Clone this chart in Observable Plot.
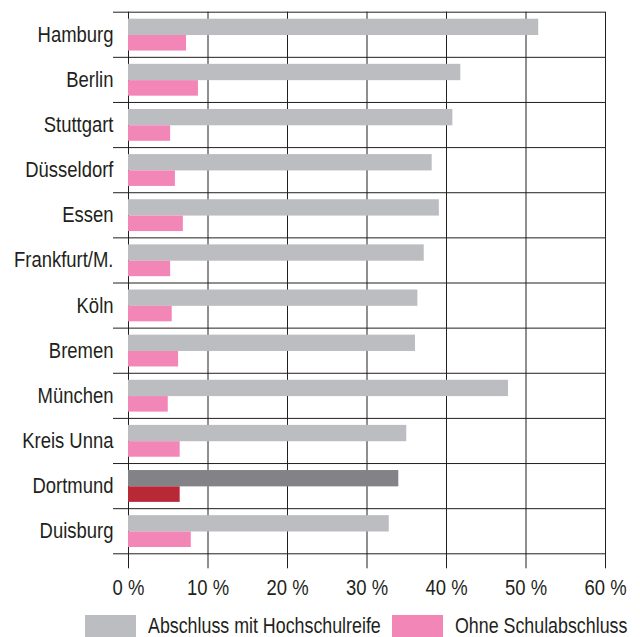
<!DOCTYPE html>
<html><head><meta charset="utf-8">
<script src="https://cdn.jsdelivr.net/npm/d3@7"></script>
<script src="https://cdn.jsdelivr.net/npm/@observablehq/plot@0.6"></script>
<style>
body{margin:0;background:#fff;font-family:"Liberation Sans","Arial",sans-serif;color:#231f20}
#legend{position:relative;height:30px;font-size:22px;line-height:22px}
.sw{position:absolute;top:8px;width:51px;height:22px}
.lab{position:absolute;top:8px;white-space:nowrap;transform:scaleX(0.81);transform-origin:0 50%}
</style></head><body>
<div id="chart"></div>
<div id="legend"></div>
<script>
const cities = ["Hamburg","Berlin","Stuttgart","Düsseldorf","Essen","Frankfurt/M.","Köln","Bremen","München","Kreis Unna","Dortmund","Duisburg"];
const hochschulreife = [51.6,41.8,40.8,38.2,39.1,37.2,36.4,36.1,47.8,35.0,34.0,32.8];
const ohneAbschluss = [7.3,8.8,5.3,5.9,6.9,5.3,5.5,6.3,5.0,6.5,6.5,7.9];
const xTicks = [0,10,20,30,40,50,60];
const seriesNames = ["Abschluss mit Hochschulreife","Ohne Schulabschluss"];
const highlight = "Dortmund";

const colGray = "#bcbdc1", colPink = "#f287b7", colDark = "#838387", colRed = "#b92837";
const ink = "#231f20";
const squeeze = 0.84;

const data = cities.map((c, i) => ({city: c, i, hoch: hochschulreife[i], ohne: ohneAbschluss[i]}));
const centers = cities.map((c, i) => i + 0.5);

const H = 607;
const chart = Plot.plot({
  width: 640,
  height: H,
  marginTop: 11.7,
  marginBottom: H - 553.3,
  marginLeft: 128,
  marginRight: 35,
  style: {fontSize: "22px", fontFamily: "'Liberation Sans',Arial,sans-serif", color: ink, background: "#fff"},
  x: {domain: [0, 60]},
  y: {domain: [0, cities.length], reverse: true},
  color: {type: "identity"},
  marks: [
    Plot.ruleX(xTicks, {stroke: ink, strokeWidth: 1, insetBottom: -15}),
    Plot.ruleY(d3.range(cities.length + 1), {stroke: ink, strokeWidth: 1, insetLeft: -15}),
    Plot.rect(data, {x1: 0, x2: "hoch", y1: "i", y2: d => d.i + 1, insetTop: 7, insetBottom: 21.8,
      fill: d => d.city === highlight ? colDark : colGray}),
    Plot.rect(data, {x1: 0, x2: "ohne", y1: "i", y2: d => d.i + 1, insetTop: 23.3, insetBottom: 6.3,
      fill: d => d.city === highlight ? colRed : colPink}),
    Plot.axisY({ticks: centers, tickSize: 0, tickPadding: 15, tickFormat: v => cities[Math.floor(v)], label: null}),
    Plot.axisX({ticks: xTicks, tickSize: 0, tickPadding: 26, tickFormat: d => `${d} %`, label: null})
  ]
});
document.getElementById("chart").appendChild(chart);

// emulate a condensed face: squeeze each text horizontally about its anchor
chart.querySelectorAll("text").forEach(t => {
  const tr = t.getAttribute("transform") || "";
  const m = /translate\(\s*([-\d.e]+)[,\s]*([-\d.e]+)?\s*\)/.exec(tr);
  const x = (m ? +m[1] : 0) + (+t.getAttribute("x") || 0);
  t.setAttribute("transform", `translate(${x},0) scale(${squeeze},1) translate(${-x},0) ${tr}`);
});

const legend = document.getElementById("legend");
[[seriesNames[0], colGray, 85, 148], [seriesNames[1], colPink, 392, 455]].forEach(([name, col, sx, tx]) => {
  const sw = document.createElement("div"); sw.className = "sw"; sw.style.background = col; sw.style.left = sx + "px";
  const lb = document.createElement("span"); lb.className = "lab"; lb.textContent = name; lb.style.left = tx + "px";
  legend.appendChild(sw); legend.appendChild(lb);
});
</script>
</body></html>
